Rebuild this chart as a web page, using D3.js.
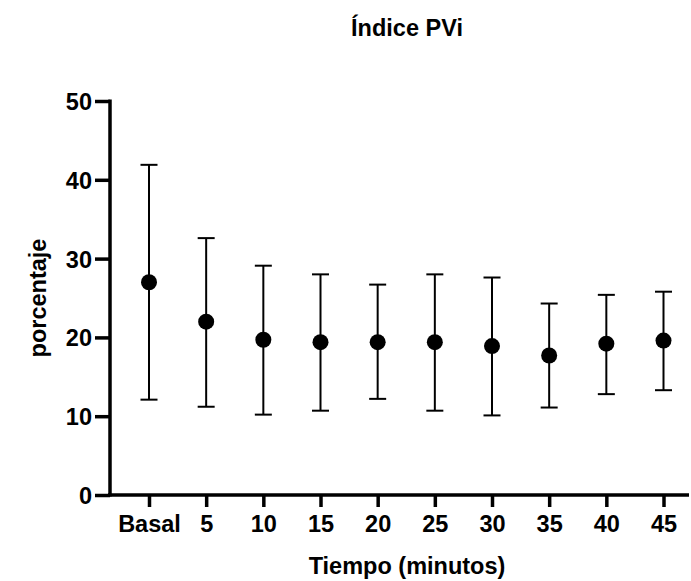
<!DOCTYPE html>
<html>
<head>
<meta charset="utf-8">
<script src="https://cdn.jsdelivr.net/npm/d3@7"></script>
<style>
  body { margin: 0; background: #fff; }
  text { font-family: Arial, "Liberation Sans", sans-serif; font-weight: bold; fill: #000; }
</style>
</head>
<body>
<div id="main"></div>
<script>
var width = 691,
    height = 581;

// data
var categories = ["Basal", "5", "10", "15", "20", "25", "30", "35", "40", "45"];
var means = [27.0, 22.0, 19.7, 19.4, 19.4, 19.4, 18.9, 17.7, 19.2, 19.6];
var upper = [41.9, 32.6, 29.1, 28.0, 26.7, 28.0, 27.6, 24.3, 25.4, 25.8];
var lower = [12.1, 11.2, 10.2, 10.7, 12.2, 10.7, 10.1, 11.1, 12.8, 13.3];
var yTicks = [0, 10, 20, 30, 40, 50];

var fs = "23.5px";

var svg = d3.select("#main").append("svg")
    .attr("width", width)
    .attr("height", height);

var x = d3.scalePoint()
    .domain(categories)
    .range([149, 663.5]);

var y = d3.scaleLinear()
    .domain([0, 50])
    .range([495, 101]);

// title
svg.append("text")
    .attr("x", 407)
    .attr("y", 36)
    .attr("text-anchor", "middle")
    .style("font-size", fs)
    .text("Índice PVi");

// y axis
var yAxis = svg.append("g")
    .attr("transform", "translate(110,0)")
    .call(d3.axisLeft(y).tickValues(yTicks).tickSize(15).tickPadding(3));
yAxis.select(".domain").attr("stroke-width", 3.5).attr("d", "M0," + (y(50) - 1.5) + "V" + (y(0) + 1.5));
yAxis.selectAll(".tick line").attr("stroke-width", 3.5);
yAxis.selectAll(".tick text").style("font-size", fs).attr("dy", "0.36em");

// x axis
var xAxis = svg.append("g")
    .attr("transform", "translate(0,495)")
    .call(d3.axisBottom(x).tickSize(12).tickPadding(10));
xAxis.select(".domain").attr("stroke-width", 3.5).attr("d", "M108,0H689");
xAxis.selectAll(".tick line").attr("stroke-width", 3.5);
xAxis.selectAll(".tick text").style("font-size", fs).attr("y", 37).attr("dy", 0);

// axis titles
svg.append("text")
    .attr("x", 407)
    .attr("y", 574)
    .attr("text-anchor", "middle")
    .style("font-size", fs)
    .text("Tiempo (minutos)");

svg.append("text")
    .attr("transform", "translate(46,298)rotate(-90)")
    .attr("text-anchor", "middle")
    .style("font-size", fs)
    .text("porcentaje");

// error bars
var g = svg.append("g");
var cap = 8.5;

categories.forEach(function(c, i) {
  var cx = x(c);
  g.append("line")
    .attr("x1", cx).attr("x2", cx)
    .attr("y1", y(upper[i])).attr("y2", y(lower[i]))
    .attr("stroke", "#000").attr("stroke-width", 2);
  g.append("line")
    .attr("x1", cx - cap).attr("x2", cx + cap)
    .attr("y1", y(upper[i])).attr("y2", y(upper[i]))
    .attr("stroke", "#000").attr("stroke-width", 2);
  g.append("line")
    .attr("x1", cx - cap).attr("x2", cx + cap)
    .attr("y1", y(lower[i])).attr("y2", y(lower[i]))
    .attr("stroke", "#000").attr("stroke-width", 2);
});

g.selectAll("circle")
  .data(means)
  .enter()
  .append("circle")
  .attr("cx", function(d, i) { return x(categories[i]); })
  .attr("cy", function(d) { return y(d); })
  .attr("r", 8)
  .attr("fill", "#000");
</script>
</body>
</html>
